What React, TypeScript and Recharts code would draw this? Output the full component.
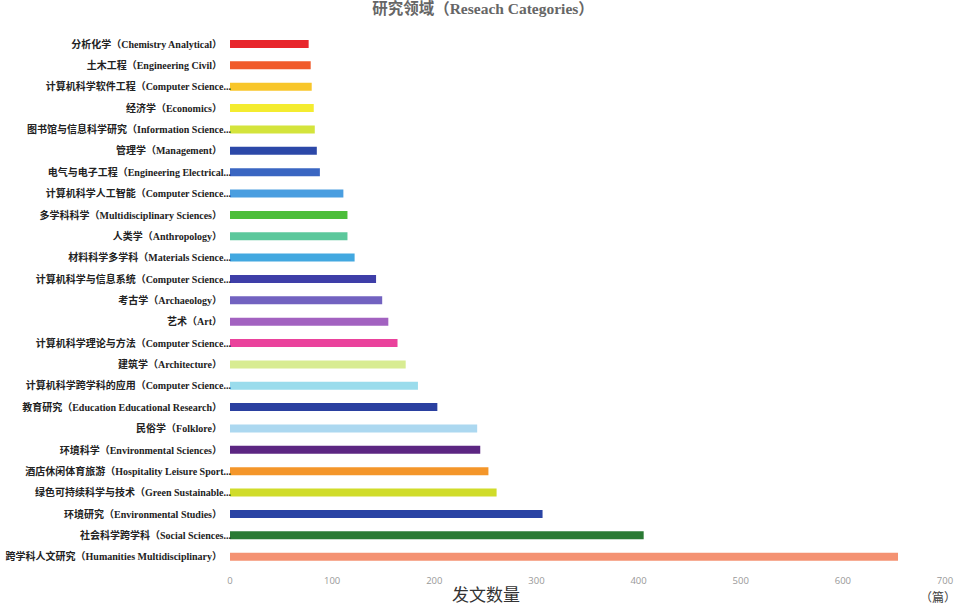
import { BarChart, Bar, XAxis, YAxis, Cell } from 'recharts';

const categories = [
  '分析化学（Chemistry Analytical）',
  '土木工程（Engineering Civil）',
  '计算机科学软件工程（Computer Science...',
  '经济学（Economics）',
  '图书馆与信息科学研究（Information Science...',
  '管理学（Management）',
  '电气与电子工程（Engineering Electrical...',
  '计算机科学人工智能（Computer Science...',
  '多学科科学（Multidisciplinary Sciences）',
  '人类学（Anthropology）',
  '材料科学多学科（Materials Science...',
  '计算机科学与信息系统（Computer Science...',
  '考古学（Archaeology）',
  '艺术（Art）',
  '计算机科学理论与方法（Computer Science...',
  '建筑学（Architecture）',
  '计算机科学跨学科的应用（Computer Science...',
  '教育研究（Education Educational Research）',
  '民俗学（Folklore）',
  '环境科学（Environmental Sciences）',
  '酒店休闲体育旅游（Hospitality Leisure Sport...',
  '绿色可持续科学与技术（Green Sustainable...',
  '环境研究（Environmental Studies）',
  '社会科学跨学科（Social Sciences...',
  '跨学科人文研究（Humanities Multidisciplinary）',
];

const counts = [77, 79, 80, 82, 83, 85, 88, 111, 115, 115, 122, 143, 149, 155, 164, 172, 184, 203, 242, 245, 253, 261, 306, 405, 654];

const barColors = [
  '#e8262c', '#f05a2a', '#f8c62a', '#f4ec30', '#d4e43c', '#2c48a8', '#3a66c2', '#4a9ee0',
  '#4cbe3a', '#5cc89c', '#42a8e0', '#3e3ea8', '#7262c0', '#a262c0', '#ea429c', '#d8ec92',
  '#9adcec', '#2a40a0', '#acd8f0', '#5c2682', '#f4962a', '#d0dc2a', '#2a44a4', '#2a7a34',
  '#f49272',
];

const xTicks = [0, 100, 200, 300, 400, 500, 600, 700];

const data = categories.map((name, i) => ({ name, value: counts[i] }));

const CategoryTick = ({ x, y, payload }: any) => {
  const label: string = payload.value;
  const cut = label.endsWith('...');
  return (
    <text
      x={cut ? x + 9 : x}
      y={y}
      dy={4}
      textAnchor="end"
      fontSize={10}
      fontWeight="bold"
      fill="#222"
      fontFamily="'Liberation Serif', 'Noto Sans CJK SC', serif"
    >
      {label}
    </text>
  );
};

export default function App() {
  return (
    <div style={{ position: 'absolute', left: 0, top: 0, width: 958, height: 606, background: '#fff', overflow: 'hidden' }}>
      <div
        style={{
          position: 'absolute',
          left: 0,
          top: -4,
          width: 958,
          textAlign: 'center',
          fontFamily: "'Liberation Serif', 'Noto Sans CJK SC', serif",
          fontWeight: 'bold',
          fontSize: 15.5,
          color: '#666',
          paddingLeft: 4,
        }}
      >
        研究领域（Reseach Categories）
      </div>
      <BarChart
        width={958}
        height={606}
        data={data}
        layout="vertical"
        margin={{ top: 33, right: 13, left: 0, bottom: 0 }}
      >
        <XAxis
          type="number"
          domain={[0, 700]}
          ticks={xTicks}
          axisLine={false}
          tickLine={false}
          height={39}
          tick={{ fill: '#999', fontSize: 9.5, fontFamily: "'Open Sans', sans-serif" }}
          dy={2}
        />
        <YAxis
          type="category"
          dataKey="name"
          width={230}
          axisLine={false}
          tickLine={false}
          interval={0}
          tick={<CategoryTick />}
        />
        <Bar dataKey="value" barSize={8} isAnimationActive={false}>
          {data.map((d, i) => (
            <Cell key={d.name} fill={barColors[i]} />
          ))}
        </Bar>
      </BarChart>
      <div
        style={{
          position: 'absolute',
          left: 452,
          top: 584,
          fontSize: 17,
          color: '#333',
          fontFamily: "'Noto Sans CJK SC', sans-serif",
          lineHeight: '20px',
        }}
      >
        发文数量
      </div>
      <div
        style={{
          position: 'absolute',
          left: 920,
          top: 589,
          fontSize: 12,
          color: '#444',
          fontFamily: "'Noto Sans CJK SC', sans-serif",
          lineHeight: '16px',
        }}
      >
        （篇）
      </div>
    </div>
  );
}
